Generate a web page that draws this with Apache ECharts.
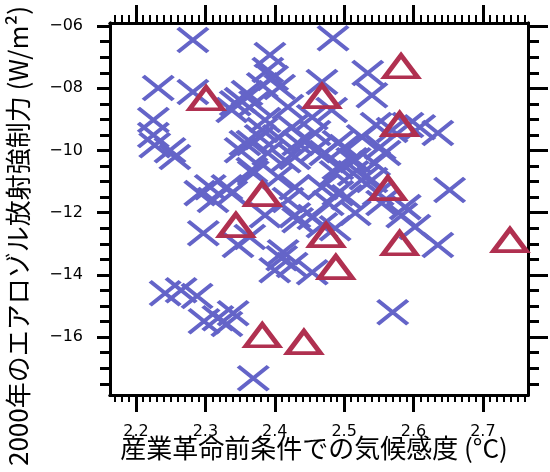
<!DOCTYPE html>
<html>
<head>
<meta charset="utf-8">
<script src="https://cdn.jsdelivr.net/npm/echarts@6/dist/echarts.min.js"></script>
<style>html,body{margin:0;padding:0;background:#fff;}#c{width:550px;height:472px;}</style>
</head>
<body>
<div id="c"></div>
<script>
// Model ensemble (crosses): [climate sensitivity °C, aerosol forcing W/m²]
const ensembleX = [2.282,2.484,2.232,2.282,2.225,2.393,2.390,2.397,2.382,2.360,2.350,2.338,2.407,2.371,2.419,2.468,2.482,2.534,2.540,2.454,2.386,2.425,2.546,2.569,2.592,2.609,2.635,2.225,2.227,2.249,2.256,2.405,2.458,2.367,2.433,2.390,2.415,2.472,2.501,2.526,2.516,2.491,2.544,2.367,2.405,2.429,2.468,2.491,2.540,2.549,2.559,2.350,2.379,2.446,2.513,2.504,2.552,2.307,2.331,2.292,2.311,2.369,2.652,2.588,2.583,2.602,2.635,2.297,2.347,2.364,2.412,2.468,2.487,2.410,2.400,2.425,2.454,2.386,2.429,2.455,2.242,2.265,2.288,2.298,2.318,2.340,2.331,2.570,2.369,2.433,
  2.343,2.382,2.357,2.429,2.458,2.491,2.511,2.487,2.530,2.338,2.419,2.477,2.516,2.554];
const ensembleY = [-6.45,-6.39,-7.99,-8.12,-9.02,-6.93,-7.41,-7.67,-7.90,-8.15,-8.38,-8.70,-7.96,-8.48,-8.60,-7.80,-8.70,-7.51,-8.22,-8.93,-9.02,-9.25,-9.18,-9.34,-9.18,-9.25,-9.44,-9.50,-9.83,-9.99,-10.21,-9.57,-9.44,-9.76,-9.76,-10.08,-10.31,-10.08,-9.89,-9.57,-10.31,-10.53,-10.41,-10.63,-10.86,-11.18,-11.18,-11.37,-10.95,-11.37,-10.08,-9.99,-9.57,-9.67,-10.73,-11.50,-9.89,-11.18,-11.18,-11.37,-11.59,-10.73,-11.27,-11.82,-12.08,-12.46,-13.04,-12.66,-13.04,-12.78,-13.27,-12.40,-12.50,-13.46,-13.85,-13.68,-13.91,-12.08,-12.08,-12.14,-14.59,-14.49,-14.68,-15.49,-15.39,-15.23,-15.58,-15.20,-17.32,-12.24,
  -8.48,-9.34,-9.76,-10.21,-9.99,-9.76,-10.31,-10.73,-10.86,-11.37,-11.59,-11.69,-12.01,-11.69];
// Highlighted members (triangles)
const selectedX = [2.301,2.468,2.582,2.382,2.563,2.580,2.344,2.580,2.739,2.382,2.442,2.488,2.474];
const selectedY = [-8.32,-8.25,-7.29,-11.40,-11.21,-9.15,-12.40,-12.98,-12.88,-15.94,-16.16,-13.75,-12.72];
// Tick labels
const xMajorTicks = [2.2,2.3,2.4,2.5,2.6,2.7];
const yMajorTicks = [-6,-8,-10,-12,-14,-16];
const xTitle = '産業革命前条件での気候感度 (°C)';
const yTitle = '2000年のエアロゾル放射強制力 (W/m²)';

const xMin = 2.1625, xMax = 2.765, yMin = -17.86, yMax = -5.9;
const xMinor = [];
for (let i = 217; i <= 276; i++) { const v = i / 100; if (i % 10 !== 0) xMinor.push(v); }
const yMinor = [];
for (let i = -35; i <= -12; i++) { const v = i / 2; if (i % 4 !== 0) yMinor.push(v); }

const blue = '#6464c8', red = '#b03050';
const fmtY = v => '\u2212' + String(Math.abs(Math.round(v))).padStart(2, '0');

function axis(kind, position, ticks, len, w, labels) {
  const isX = kind === 'x';
  const a = {
    type: 'value', position: position,
    min: isX ? xMin : yMin, max: isX ? xMax : yMax,
    splitLine: { show: false },
    axisLine: { show: true, onZero: false, lineStyle: { color: '#000', width: 3, cap: 'round' } },
    axisTick: { show: true, inside: false, length: len, customValues: ticks, lineStyle: { color: '#000', width: w } },
    axisLabel: { show: false },
    silent: true
  };
  if (labels) {
    a.axisLabel = {
      show: true, customValues: ticks, color: '#000',
      fontFamily: 'DejaVu Sans', fontSize: 16,
      margin: isX ? 29 : 27,
      formatter: isX ? (v => v.toFixed(1)) : fmtY
    };
  }
  return a;
}

const chart = echarts.init(document.getElementById('c'), null, { renderer: 'canvas' });
chart.setOption({
  animation: false,
  backgroundColor: '#fff',
  grid: { left: 110, right: 22, top: 23, bottom: 77, containLabel: false },
  xAxis: [
    axis('x', 'bottom', xMajorTicks, 17, 3, true),
    axis('x', 'bottom', xMinor, 7, 2, false),
    axis('x', 'top', xMajorTicks, 18, 3, false),
    axis('x', 'top', xMinor, 8, 2, false)
  ],
  yAxis: [
    axis('y', 'left', yMajorTicks, 13, 3, true),
    axis('y', 'left', yMinor, 10, 3, false),
    axis('y', 'right', yMajorTicks, 20, 3, false),
    axis('y', 'right', yMinor, 11, 3, false)
  ],
  graphic: [
    { type: 'text', x: 314, y: 448, silent: true,
      style: { text: xTitle, font: '26px "Noto Sans CJK JP"', fill: '#000', textAlign: 'center', textVerticalAlign: 'middle' } },
    { type: 'text', x: 18, y: 236, rotation: Math.PI / 2, silent: true,
      style: { text: yTitle, font: '26px "Noto Sans CJK JP"', fill: '#000', textAlign: 'center', textVerticalAlign: 'middle' } }
  ],
  series: [
    {
      type: 'scatter', xAxisIndex: 0, yAxisIndex: 0,
      data: ensembleX.map((x, i) => [x, ensembleY[i]]),
      symbol: 'path://M0,0L10,10M10,0L0,10', symbolSize: [30, 24],
      itemStyle: { color: 'rgba(0,0,0,0)', borderColor: blue, borderWidth: 4, opacity: 1 },
      emphasis: { disabled: true }, silent: true, z: 2
    },
    {
      type: 'scatter', xAxisIndex: 0, yAxisIndex: 0,
      data: selectedX.map((x, i) => [x, selectedY[i]]),
      symbol: 'path://M0,10L5,0L10,10Z', symbolSize: [33, 22],
      itemStyle: { color: 'rgba(0,0,0,0)', borderColor: red, borderWidth: 4.5, opacity: 1 },
      emphasis: { disabled: true }, silent: true, z: 3
    }
  ]
});
</script>
</body>
</html>
